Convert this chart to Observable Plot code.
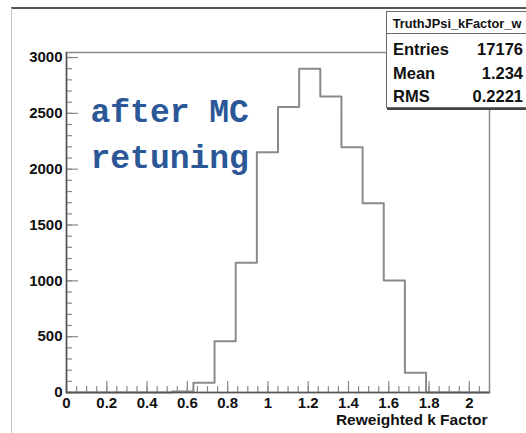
<!DOCTYPE html>
<html><head><meta charset="utf-8">
<script src="https://cdn.jsdelivr.net/npm/d3@7"></script>
<script src="https://cdn.jsdelivr.net/npm/@observablehq/plot@0.6"></script>
<style>
html,body{margin:0;padding:0;background:#fff;overflow:hidden}
#wrap{position:relative;width:526px;height:433px;overflow:hidden;background:#fff}
#wrap svg{position:absolute;left:0;top:0}
#edge{position:absolute;left:11px;top:7px;width:700px;height:700px;border-top:2px solid #555;border-left:1px solid #c4c4c4;pointer-events:none}
#stats{position:absolute;left:386px;top:11px;width:140px;height:95px;background:#fff;border:1px solid #6a6a6a;box-shadow:1px 2px 0 #444;font-family:"Liberation Sans",Arial,sans-serif;font-weight:bold;color:#111}
#stats .title{position:absolute;left:0;right:0;top:0;height:21px;border-bottom:1px solid #6a6a6a;text-align:center;font-size:12.8px;line-height:23px}
#stats .row{position:absolute;left:6px;right:4px;height:23.5px;font-size:16.5px;line-height:23.5px;display:flex;justify-content:space-between}
</style>
</head><body>
<div id="wrap"></div>
<script>
// Histogram data (bin low edges, bin width 0.105, counts)
const binLow = [0.525, 0.63, 0.735, 0.84, 0.945, 1.05, 1.155, 1.26, 1.365, 1.47, 1.575, 1.68];
const counts = [10, 87, 459, 1161, 2152, 2558, 2900, 2651, 2197, 1695, 1003, 176];
const binWidth = 0.105;
const xMax = 2.1;
const yMax = 3045;
const xTicks = [0, 0.2, 0.4, 0.6, 0.8, 1, 1.2, 1.4, 1.6, 1.8, 2];
const yTicks = [0, 500, 1000, 1500, 2000, 2500, 3000];
const xTitle = "Reweighted k Factor";
const annotation = "after MC\nretuning";
const statsName = "TruthJPsi_kFactor_w";
const statsLabels = ["Entries", "Mean", "RMS"];
const statsValues = ["17176", "1.234", "0.2221"];

const xMinor = d3.range(0, xMax + 1e-9, 0.05);
const yMinor = d3.range(0, 3001, 100);

const pts = [{x: 0, y: 0}];
binLow.forEach((b, i) => pts.push({x: b, y: counts[i]}));
pts.push({x: binLow[binLow.length - 1] + binWidth, y: 0});
pts.push({x: xMax, y: 0});

const W = 526, H = 433, mL = 66, mR = 37, mT = 52, mB = 41;
const pw = W - mL - mR, ph = H - mT - mB;

const chart = Plot.plot({
  width: W, height: H,
  marginLeft: mL, marginRight: mR, marginTop: mT, marginBottom: mB,
  style: {fontFamily: "Liberation Sans, Arial, sans-serif", fontWeight: "bold", fontSize: "15px", color: "#111", background: "transparent"},
  x: {domain: [0, xMax]},
  y: {domain: [0, yMax]},
  marks: [
    Plot.frame({stroke: "#8c8c8c", strokeWidth: 1.5}),
    Plot.tickY(yMinor, {y: d => d, insetRight: pw - 6, stroke: "#8a8a8a", strokeWidth: 1.2}),
    Plot.tickY(yTicks, {y: d => d, insetRight: pw - 12, stroke: "#8a8a8a", strokeWidth: 1.2}),
    Plot.tickX(xMinor, {x: d => d, insetTop: ph - 6, stroke: "#8a8a8a", strokeWidth: 1.2}),
    Plot.tickX(xTicks, {x: d => d, insetTop: ph - 11, stroke: "#8a8a8a", strokeWidth: 1.2}),
    Plot.axisY({ticks: yTicks, tickSize: 0, tickPadding: 4, label: null, tickFormat: d3.format("d"), fontSize: 15, fontWeight: "bold"}),
    Plot.axisX({ticks: xTicks, tickSize: 0, tickPadding: 5, label: null, tickFormat: d3.format("~g"), fontSize: 15, fontWeight: "bold"}),
    Plot.line(pts, {x: "x", y: "y", curve: "step-after", stroke: "#8a8a8a", strokeWidth: 2}),
    Plot.ruleY([0], {stroke: "#555", strokeWidth: 1.5}),
    Plot.ruleX([0], {stroke: "#555", strokeWidth: 1.5}),
    Plot.text([annotation], {frameAnchor: "top-left", dx: 24, dy: 37, lineAnchor: "top", textAnchor: "start",
      fontFamily: "Liberation Mono, monospace", fontWeight: "bold", fontSize: 33, fill: "#2b5797", lineHeight: 1.39}),
    Plot.text([xTitle], {frameAnchor: "bottom-right", dx: -2, dy: 32, textAnchor: "end", lineAnchor: "bottom", fontSize: 15.5, fontWeight: "bold", fill: "#111"})
  ]
});

const wrap = document.getElementById("wrap");
wrap.appendChild(chart);
const edge = document.createElement("div"); edge.id = "edge"; wrap.appendChild(edge);
const stats = document.createElement("div"); stats.id = "stats";
const t = document.createElement("div"); t.className = "title"; t.textContent = statsName; stats.appendChild(t);
statsLabels.forEach((lab, i) => {
  const r = document.createElement("div"); r.className = "row"; r.style.top = (26 + i * 23.5) + "px";
  const a = document.createElement("span"); a.textContent = lab;
  const b = document.createElement("span"); b.textContent = statsValues[i];
  r.appendChild(a); r.appendChild(b); stats.appendChild(r);
});
wrap.appendChild(stats);
</script>
</body></html>
